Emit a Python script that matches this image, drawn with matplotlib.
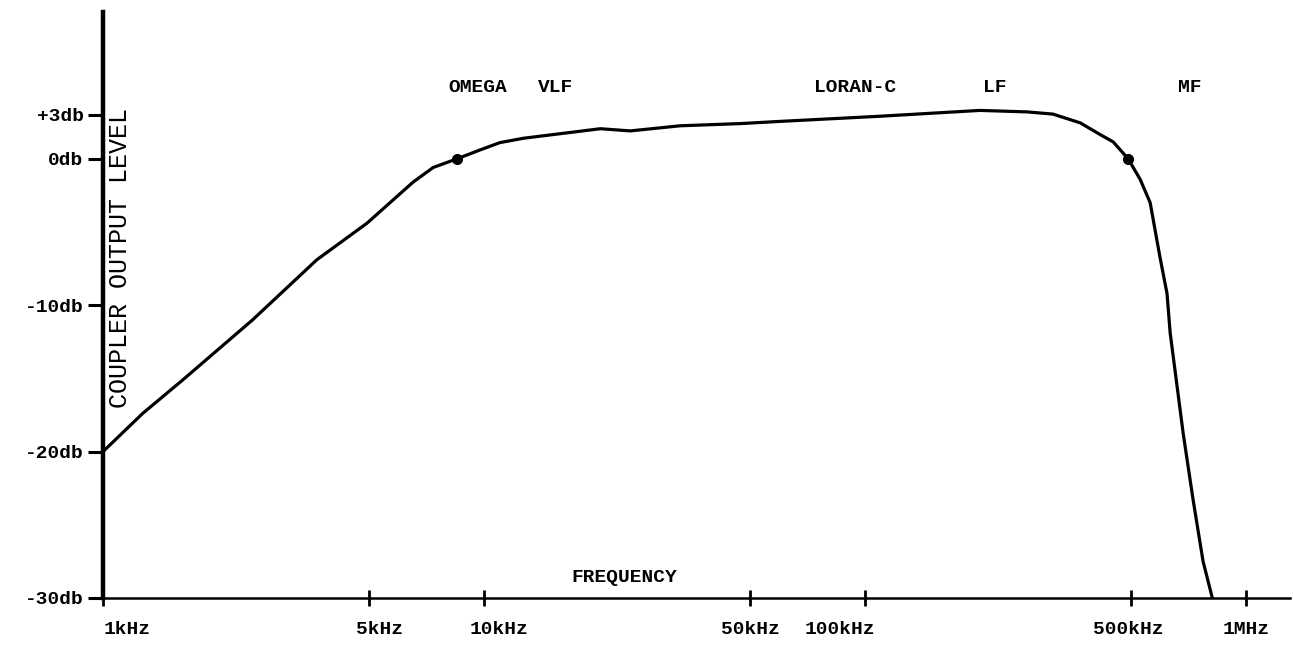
import matplotlib.pyplot as plt
from matplotlib.ticker import FixedLocator, NullLocator
from matplotlib.transforms import ScaledTranslation

# Coupler output level vs frequency
freq_khz = [1.0, 1.27, 1.62, 2.47, 3.64, 4.93, 6.51, 7.35, 8.5, 9.76,
            11.0, 12.7, 20.2, 24.2, 32.7, 47.0, 59.8, 109, 200, 266,
            311, 367, 414, 448, 490, 527, 560, 594, 620, 632,
            684, 726, 771, 819]
level_db = [-20.0, -17.4, -15.1, -11.0, -6.9, -4.4, -1.6, -0.6, 0.0, 0.6,
            1.1, 1.4, 2.05, 1.9, 2.25, 2.4, 2.55, 2.9, 3.3, 3.2,
            3.05, 2.45, 1.65, 1.15, 0.0, -1.4, -3.0, -6.7, -9.2, -11.9,
            -18.8, -23.3, -27.5, -30.2]

# 0 db reference points marked on the curve
dot_khz = [8.5, 490]
dot_db = [0.0, 0.0]

x_ticks = [1, 5, 10, 50, 100, 500, 1000]
x_labels = ["1kHz", "5kHz", "10kHz", "50kHz", "100kHz", "500kHz", "1MHz"]
y_ticks = [3, 0, -10, -20, -30]
y_labels = ["+3db", "0db", "-10db", "-20db", "-30db"]

band_names = ["OMEGA", "VLF", "LORAN-C", "LF", "MF"]
band_khz = [9.65, 15.4, 94, 219, 713]

FONT = "Liberation Mono"
# typed labels sit a little off their ticks in the original (pixels)
label_shift = [24, 10, 15, 0, -25, -3, 0]

fig = plt.figure(figsize=(12.93, 6.45), dpi=100)
ax = fig.add_axes([0.0797, 0.0729, 0.918, 0.908])

ax.plot(freq_khz, level_db, color="black", linewidth=2.3,
        solid_capstyle="round", solid_joinstyle="round")
ax.plot(dot_khz, dot_db, "o", color="black", markersize=7)

ax.set_xscale("log")
ax.set_xlim(1.0, 1304)
ax.set_ylim(-30, 10)

ax.xaxis.set_major_locator(FixedLocator(x_ticks))
ax.xaxis.set_minor_locator(NullLocator())
ax.set_xticklabels([])
for tick, text, dx in zip(x_ticks, x_labels, label_shift):
    tr = ax.get_xaxis_transform() + ScaledTranslation(dx / 100, -0.32,
                                                      fig.dpi_scale_trans)
    ax.text(tick, 0, text, transform=tr, ha="center", va="center",
            fontfamily=FONT, fontsize=14, fontweight="bold")

ax.set_yticks(y_ticks)
ax.set_yticklabels(y_labels, fontfamily=FONT, fontsize=14, fontweight="bold")

ax.tick_params(axis="y", direction="out", length=11, width=2.2, pad=3)
ax.tick_params(axis="x", direction="inout", length=12, width=2.0)

for side in ("top", "right"):
    ax.spines[side].set_visible(False)
ax.spines["left"].set_linewidth(3.2)
ax.spines["bottom"].set_linewidth(1.8)

for name, f in zip(band_names, band_khz):
    ax.text(f, 4.85, name, ha="center", va="center",
            fontfamily=FONT, fontsize=14, fontweight="bold")

ax.text(23.3, -28.6, "FREQUENCY", ha="center", va="center",
        fontfamily=FONT, fontsize=14, fontweight="bold")
ax.text(1.108, -6.75, "COUPLER OUTPUT LEVEL", rotation=90, ha="center",
        va="center", fontfamily=FONT, fontsize=18)

fig.savefig("out.png", dpi=100, facecolor="white")
